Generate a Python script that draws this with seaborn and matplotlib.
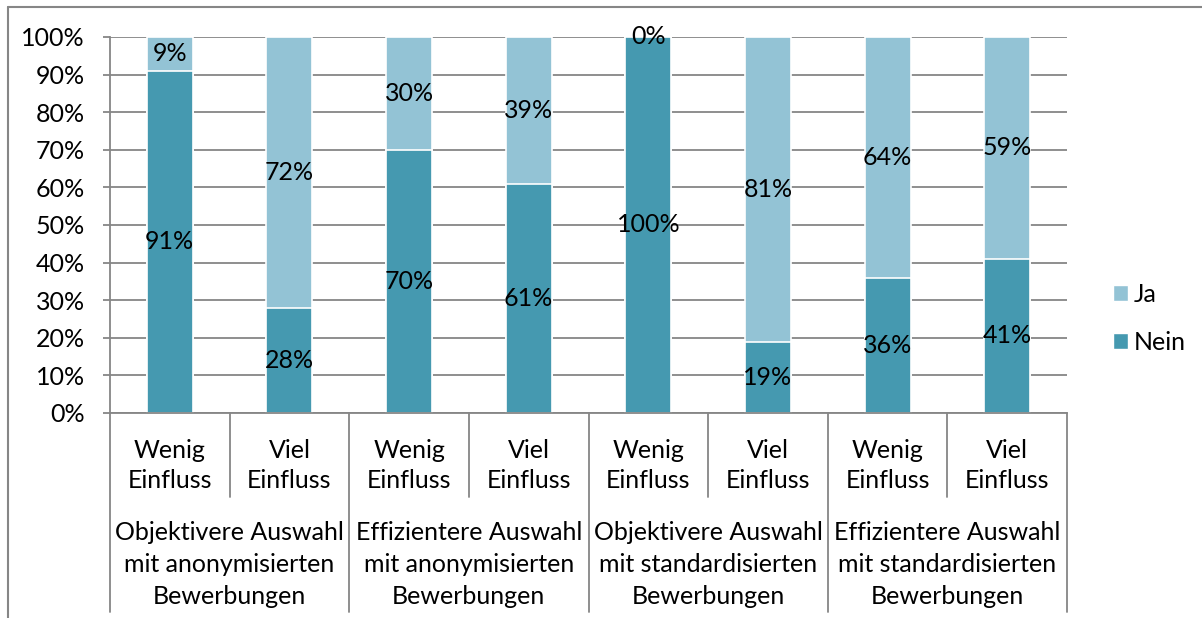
import matplotlib.pyplot as plt
import seaborn as sns
import pandas as pd
from matplotlib.lines import Line2D
from matplotlib.patches import Patch

# data (percent)
gruppen = ['Objektivere Auswahl\nmit anonymisierten\nBewerbungen',
           'Effizientere Auswahl\nmit anonymisierten\nBewerbungen',
           'Objektivere Auswahl\nmit standardisierten\nBewerbungen',
           'Effizientere Auswahl\nmit standardisierten\nBewerbungen']
einfluss = ['Wenig\nEinfluss', 'Viel\nEinfluss']
nein = [91, 28, 70, 61, 100, 19, 36, 41]
ja = [9, 72, 30, 39, 0, 81, 64, 59]

FARBE_NEIN = '#4599b0'
FARBE_JA = '#93c3d5'
GRAU = '#868686'
W, H = 1202, 618

df = pd.DataFrame({
    'pos': [str(i) for i in range(len(nein))],
    'Nein': nein,
    'Ja': ja,
})
df['Gesamt'] = df['Nein'] + df['Ja']

sns.set_style('white')
plt.rcParams['font.family'] = ['Lato', 'DejaVu Sans']
plt.rcParams['text.color'] = 'black'
plt.rcParams['ytick.labelcolor'] = 'black'
FS = 18

fig = plt.figure(figsize=(W / 100, H / 100), dpi=100)
ax = fig.add_axes([110 / W, 1 - 413 / H, (1067 - 110) / W, (413 - 37) / H])

ax.set_axisbelow(True)
ax.yaxis.grid(True, color=GRAU, linewidth=1.3)

sns.barplot(data=df, x='pos', y='Gesamt', color=FARBE_JA, width=0.385,
            edgecolor='white', linewidth=1.2, ax=ax, saturation=1)
sns.barplot(data=df, x='pos', y='Nein', color=FARBE_NEIN, width=0.385,
            edgecolor='white', linewidth=1.2, ax=ax, saturation=1)

ax.set_xlim(-0.5, 7.5)
ax.set_ylim(0, 100)
ax.set_yticks(range(0, 101, 10))
ax.set_yticklabels([f'{v}%' for v in range(0, 101, 10)], fontsize=FS,
                   color='black')
ax.tick_params(axis='y', length=5, width=1.3, color=GRAU, pad=13, left=True)
ax.set_xticks([])
ax.set_xlabel('')
ax.set_ylabel('')
for s in ['top', 'right']:
    ax.spines[s].set_visible(False)
for s in ['left', 'bottom']:
    ax.spines[s].set_color(GRAU)
    ax.spines[s].set_linewidth(1.3)

# data labels
for i, (n, j) in enumerate(zip(nein, ja)):
    ax.text(i, n / 2, f'{n}%', ha='center', va='center', fontsize=FS)
    ax.text(i, n + j / 2, f'{j}%', ha='center', va='center', fontsize=FS)

# two-level category axis
tr = ax.get_xaxis_transform()
def ay(py):
    return (413 - py) / (413 - 37)

for x in [0.5, 2.5, 4.5, 6.5]:
    ax.plot([x, x], [0, ay(497)], color=GRAU, lw=1.3, transform=tr, clip_on=False)
for x in [-0.5, 1.5, 3.5, 5.5, 7.5]:
    ax.plot([x, x], [0, ay(612)], color=GRAU, lw=1.3, transform=tr, clip_on=False)

for i in range(len(nein)):
    zeilen = einfluss[i % 2].split('\n')
    for z, py in zip(zeilen, [450, 481]):
        ax.text(i, ay(py), z, ha='center', va='center', fontsize=FS,
                transform=tr)
for g, name in enumerate(gruppen):
    for z, py in zip(name.split('\n'), [532, 564, 597]):
        ax.text(2 * g + 0.5, ay(py), z, ha='center', va='center',
                fontsize=FS, transform=tr)

# legend
handles = [Patch(facecolor=FARBE_JA, edgecolor='white', label='Ja'),
           Patch(facecolor=FARBE_NEIN, edgecolor='white', label='Nein')]
fig.legend(handles=handles, loc='center left',
           bbox_to_anchor=(1090 / W, 1 - 318 / H), frameon=False,
           fontsize=FS, handlelength=0.6, handleheight=0.6,
           handletextpad=0.25, labelspacing=1.0)

# outer frame
fig.add_artist(Line2D([8 / W, 1], [1 - 7 / H, 1 - 7 / H], color=GRAU, lw=1.5))
fig.add_artist(Line2D([8 / W, 8 / W], [0, 1 - 7 / H], color=GRAU, lw=1.5))

plt.savefig('out.png', dpi=100)
plt.close()
